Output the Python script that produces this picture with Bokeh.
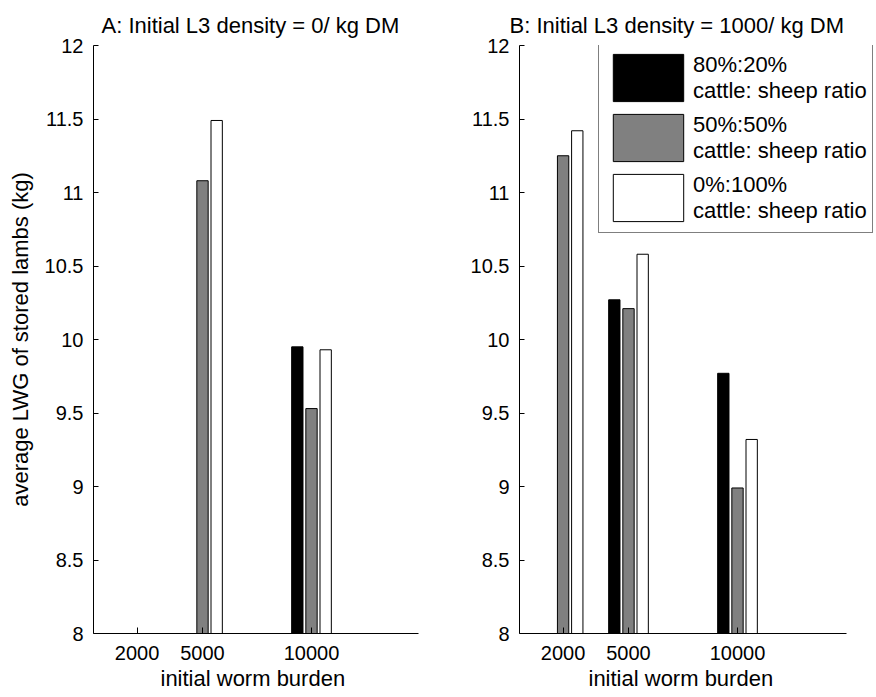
from bokeh.plotting import figure
from bokeh.layouts import row
from bokeh.models import ColumnDataSource, FixedTicker, Legend, LegendItem, Range1d, Title
from bokeh.transform import dodge
from bokeh.embed import file_html
from bokeh.resources import INLINE

# ---- data ----
worm_burden = [2000, 5000, 10000]
x_ticks = [2000, 5000, 10000]
y_ticks = [8, 8.5, 9, 9.5, 10, 10.5, 11, 11.5, 12]
y_tick_labels = ["8", "8.5", "9", "9.5", "10", "10.5", "11", "11.5", "12"]
series_labels = ["80%:20%\ncattle: sheep ratio",
                 "50%:50%\ncattle: sheep ratio",
                 "0%:100%\ncattle: sheep ratio"]
series_colors = ["#000000", "#808080", "#ffffff"]

# Panel A: initial L3 density = 0 / kg DM
lwg_A_80_20 = [0.0, 0.0, 9.95]
lwg_A_50_50 = [0.0, 11.08, 9.53]
lwg_A_0_100 = [0.0, 11.49, 9.93]
# Panel B: initial L3 density = 1000 / kg DM
lwg_B_80_20 = [0.0, 10.27, 9.77]
lwg_B_50_50 = [11.25, 10.21, 8.99]
lwg_B_0_100 = [11.42, 10.58, 9.32]

title_A = "A: Initial L3 density = 0/ kg DM"
title_B = "B: Initial L3 density = 1000/ kg DM"
x_label = "initial worm burden"
y_label = "average LWG of stored lambs (kg)"

FONT = "Liberation Sans"
BAR_OFFSET = 650
BAR_WIDTH = 520
X_MIN, X_MAX = 0, 15000


def make_panel(title, series, width, left, right, frame_w, title_offset, xlabel_offset,
               ylabel=None, legend=False):
    # the frame may be wider than the axis (room for the legend); axis bounds stay 0..15000
    x_end = X_MAX * frame_w / 327.0
    p = figure(width=width, height=697, x_range=Range1d(X_MIN, x_end), y_range=Range1d(8, 12),
               output_backend="svg", toolbar_location=None,
               min_border_left=left, min_border_right=right,
               min_border_top=45, min_border_bottom=64)
    p.title.text = title
    p.title.align = "left"
    p.title.offset = title_offset
    p.title.text_font = FONT
    p.title.text_font_size = "22px"
    p.title.text_font_style = "normal"
    p.title.text_color = "#000000"
    p.title.standoff = 15
    p.outline_line_color = None
    p.grid.visible = False
    p.background_fill_color = "#ffffff"
    p.border_fill_color = "#ffffff"

    src = ColumnDataSource(dict(x=worm_burden, s0=series[0], s1=series[1], s2=series[2]))
    renderers = []
    for i, (col, off) in enumerate(zip(["s0", "s1", "s2"], [-BAR_OFFSET, 0, BAR_OFFSET])):
        r = p.vbar(x=dodge("x", off), top=col, bottom=0, width=BAR_WIDTH, source=src,
                   fill_color=series_colors[i], line_color="#000000", line_width=1)
        renderers.append(r)

    for ax in (p.xaxis[0], p.yaxis[0]):
        ax.axis_line_color = "#000000"
        ax.major_tick_line_color = "#000000"
        ax.major_tick_out = 0
        ax.minor_tick_line_color = None
        ax.major_label_text_font = FONT
        ax.major_label_text_font_size = "20px"
        ax.major_label_text_color = "#000000"
        ax.axis_label_text_font = FONT
        ax.axis_label_text_font_size = "22px"
        ax.axis_label_text_font_style = "normal"
        ax.axis_label_text_color = "#000000"

    p.xaxis.bounds = (X_MIN, X_MAX)
    p.xaxis.ticker = FixedTicker(ticks=x_ticks)
    p.xaxis.major_tick_in = 6
    p.xaxis.major_label_standoff = 12

    xt = Title(text=x_label, align="left", offset=xlabel_offset, text_font=FONT,
               text_font_size="22px", text_font_style="normal", text_color="#000000",
               standoff=2)
    p.add_layout(xt, "below")

    p.yaxis.ticker = FixedTicker(ticks=y_ticks)
    p.yaxis.major_label_overrides = {t: l for t, l in zip(y_ticks, y_tick_labels)}
    p.yaxis.major_tick_in = 5
    p.yaxis.major_label_standoff = 10
    if ylabel:
        p.yaxis.axis_label = ylabel
        p.yaxis.axis_label_standoff = 9

    if legend:
        items = [LegendItem(label=lab, renderers=[r]) for lab, r in zip(series_labels, renderers)]
        leg = Legend(items=items, location=(79, 400), orientation="vertical",
                     glyph_width=88, glyph_height=59, spacing=1, padding=5, margin=0,
                     label_standoff=1, label_text_font=FONT, label_text_font_size="22px",
                     label_text_color="#000000", label_text_line_height=1.22,
                     border_line_color="#000000", border_line_width=1,
                     background_fill_color="#ffffff", background_fill_alpha=1.0)
        p.add_layout(leg)
    return p


pA = make_panel(title_A, [lwg_A_80_20, lwg_A_50_50, lwg_A_0_100], 440, 93, 22, 325,
                title_offset=8, xlabel_offset=67, ylabel=y_label)
pB = make_panel(title_B, [lwg_B_80_20, lwg_B_50_50, lwg_B_0_100], 436, 79, 0, 357,
                title_offset=-10, xlabel_offset=69, legend=True)

layout = row(pA, pB)
open("out.html", "w").write(file_html(layout, INLINE))
